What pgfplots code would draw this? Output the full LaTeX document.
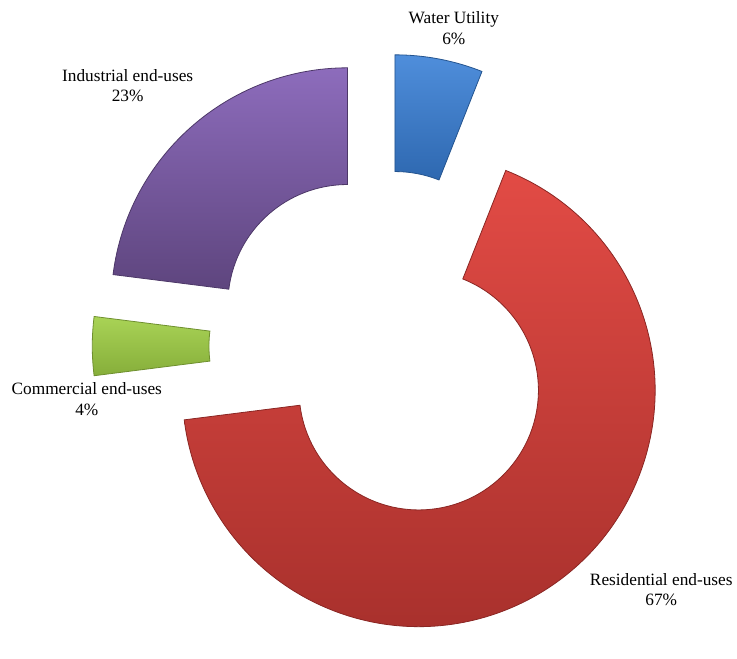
\documentclass[border=0pt]{standalone}
\usepackage{pgfplots}
\pgfplotsset{compat=1.18}
\usepackage{pgfplotstable}
\usepackage{fontspec}
\setmainfont{Liberation Serif}
\usetikzlibrary{calc}

\pgfplotstableread[col sep=comma]{
name,value
Water Utility,6
Residential end-uses,67
Commercial end-uses,4
Industrial end-uses,23
}\datatable

\definecolor{top0}{HTML}{4F8EDB}\definecolor{bot0}{HTML}{2E68B0}\definecolor{edge0}{HTML}{24548F}
\definecolor{top1}{HTML}{E24B45}\definecolor{bot1}{HTML}{A52F2B}\definecolor{edge1}{HTML}{8A2623}
\definecolor{top2}{HTML}{A9D356}\definecolor{bot2}{HTML}{86AE3A}\definecolor{edge2}{HTML}{6E8F2E}
\definecolor{top3}{HTML}{8D6CBC}\definecolor{bot3}{HTML}{5E457E}\definecolor{edge3}{HTML}{4D3868}

\begin{document}
\begin{tikzpicture}
% cumulative angles from the data
\gdef\cum{0}
\pgfplotsforeachungrouped \i in {0,...,3}{%
  \pgfplotstablegetelem{\i}{value}\of\datatable
  \let\v=\pgfplotsretval
  \pgfmathsetmacro\aone{90-\cum*3.6}%
  \pgfmathsetmacro\atwo{90-(\cum+\v)*3.6}%
  \pgfmathsetmacro\amid{90-(\cum+\v/2)*3.6}%
  \expandafter\xdef\csname aone\i\endcsname{\aone}%
  \expandafter\xdef\csname atwo\i\endcsname{\atwo}%
  \expandafter\xdef\csname amid\i\endcsname{\amid}%
  \pgfmathsetmacro\newcum{\cum+\v}%
  \xdef\cum{\newcum}%
}
\begin{axis}[
  width=552.75pt, height=472.5pt, scale only axis,
  xmin=0, xmax=737, ymin=0, ymax=630,
  hide axis, clip=false,
]
\path (axis cs:0,0) rectangle (axis cs:737,630);
\pgfplotsforeachungrouped \i in {0,...,3}{%
  \edef\A{\csname aone\i\endcsname}%
  \edef\B{\csname atwo\i\endcsname}%
  \edef\M{\csname amid\i\endcsname}%
  \edef\tmp{\noexpand\draw[draw=edge\i, line width=0.6pt, top color=top\i, bottom color=bot\i]
    ($(axis cs:385.5,283)+(\M:42pt)+(\A:177.75pt)$)
    arc[start angle=\A, end angle=\B, radius=177.75pt]
    -- ($(axis cs:385.5,283)+(\M:42pt)+(\B:90pt)$)
    arc[start angle=\B, end angle=\A, radius=90pt] -- cycle;}%
  \tmp
}
\node[align=center, font=\fontsize{13}{15.5}\selectfont] at (axis cs:455,602) {Water Utility\\6\%};
\node[align=center, font=\fontsize{13}{15.5}\selectfont] at (axis cs:128,544) {Industrial end-uses\\23\%};
\node[align=center, font=\fontsize{13}{15.5}\selectfont] at (axis cs:87,230) {Commercial end-uses\\4\%};
\node[align=center, font=\fontsize{13}{15.5}\selectfont] at (axis cs:663,39) {Residential end-uses\\67\%};
\end{axis}
\end{tikzpicture}
\end{document}
